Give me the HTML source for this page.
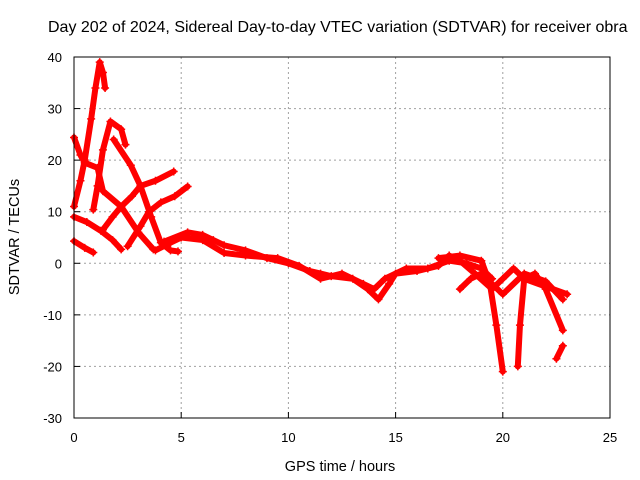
<!DOCTYPE html>
<html><head><meta charset="utf-8"><style>
body{margin:0;background:#fff;}
svg{display:block;font-family:"Liberation Sans",sans-serif;}
</style></head><body>
<svg id="chart" width="640" height="480">
<text x="48" y="32" font-size="16" fill="#000">Day 202 of 2024, Sidereal Day-to-day VTEC variation (SDTVAR) for receiver obra</text>
<text x="340" y="471" font-size="14.5" text-anchor="middle">GPS time / hours</text>
<text transform="translate(19,237) rotate(-90)" font-size="14.5" text-anchor="middle">SDTVAR / TECUs</text>
<g id="grid"></g><g id="series"></g><g id="axes"></g>
</svg>
<script>
const xTicks=[0,5,10,15,20,25];
const yTicks=[-30,-20,-10,0,10,20,30,40];
const tracks=[
 [[0,11],[0.3,16],[0.5,20],[0.8,28],[1.0,34],[1.2,39],[1.35,37],[1.45,34]],
 [[0,24.4],[0.3,21],[0.5,19.5],[1.1,18.5],[1.35,14],[2.2,11],[3,6],[3.7,2.7]],
 [[0.9,10.4],[1.1,15],[1.35,22],[1.7,27.5],[2.2,26],[2.4,23]],
 [[1.85,24],[2.65,19],[3.1,15],[3.6,9],[4.05,4],[4.5,2.5],[4.85,2.3]],
 [[0,9],[0.6,8],[1.25,6.3],[1.8,4.5],[2.2,2.7]],
 [[0,4.3],[0.5,3],[0.9,2.1]],
 [[1.35,6.5],[1.8,9],[2.2,11],[2.7,13],[3.1,15],[3.8,16],[4.65,17.8]],
 [[2.5,3.3],[3.1,7.2],[3.5,10],[4.05,11.8],[4.7,13],[5.3,14.9]],
 [[4.2,4.2],[5.3,6],[6,5.5],[6.5,4.5],[7,3.5],[8,2.5],[9,1],[10,0],[11,-1.5],[11.5,-2],[12,-2.5],[13,-3],[13.7,-5],[14.2,-7],[14.7,-4],[15,-2],[16,-1.5],[17,-0.5],[17.5,1.5],[18,0.5],[18.7,-2],[19.5,-5],[20,-3],[20.5,-1],[21,-3],[22,-4.5],[23,-6]],
 [[3.8,2.5],[4.5,4],[5,5],[6,4.5],[7,2],[8,1.5],[9.5,1],[10.5,-0.5],[11.5,-3],[12.5,-2],[13.5,-4],[14,-5],[14.5,-3],[15.5,-1],[16.5,-1],[17.5,0.5],[18.3,0],[19,-1],[19.5,-3]],
 [[17,1],[18,1.5],[19,0.5],[19.4,-4],[19.7,-12],[20,-21]],
 [[20.7,-20],[20.8,-12],[21,-3],[21.5,-2],[22,-5],[22.8,-13]],
 [[18,-5],[18.5,-3],[19,-2],[20,-6],[21,-2],[22,-3.5],[22.8,-7]],
 [[22.5,-18.5],[22.8,-16]]
];
const L=74,R=610,T=57,B=418;
const X=v=>L+(v-0)/25*(R-L);
const Y=v=>B-(v+30)/70*(B-T);
const NS="http://www.w3.org/2000/svg";
function mk(tag,attrs,parent){const e=document.createElementNS(NS,tag);for(const k in attrs)e.setAttribute(k,attrs[k]);parent.appendChild(e);return e;}
const grid=document.getElementById('grid'),axes=document.getElementById('axes'),ser=document.getElementById('series');
xTicks.forEach(t=>{
 if(t>0&&t<25){const g=mk('line',{x1:X(t),x2:X(t),y1:T,y2:B,stroke:'#a0a0a0','stroke-dasharray':'2,3'},grid);
 
 }
 const tk=mk('line',{x1:X(t),x2:X(t),y1:B,y2:B-6,stroke:'#000'},axes);
 
 
 const tx=mk('text',{x:X(t),y:B+24,'font-size':13,'text-anchor':'middle'},axes);tx.textContent=t;
 
 
});
yTicks.forEach(t=>{
 if(t>-30&&t<40){const g=mk('line',{x1:L,x2:R,y1:Y(t),y2:Y(t),stroke:'#a0a0a0','stroke-dasharray':'2,3'},grid);
 
 }
 const tk=mk('line',{x1:L,x2:L+6,y1:Y(t),y2:Y(t),stroke:'#000'},axes);
 
 
 const tx=mk('text',{x:L-12,y:Y(t)+5,'font-size':13,'text-anchor':'end'},axes);tx.textContent=t;
 
 
});
const fr=mk('rect',{x:L,y:T,width:R-L,height:B-T,fill:'none',stroke:'#000'},axes);


tracks.forEach(tr=>{
 const pl=mk('polyline',{points:tr.map(p=>X(p[0])+','+Y(p[1])).join(' '),fill:'none',stroke:'#f00','stroke-width':6,'stroke-linejoin':'round','stroke-linecap':'round'},ser);
 
 
 tr.forEach(p=>{const x=X(p[0]),y=Y(p[1]);
  const m=mk('path',{d:`M${x-4},${y}h8M${x},${y-4}v8`,stroke:'#f00','stroke-width':1.5},ser);
  
  
 });
});
</script>
</body></html>
